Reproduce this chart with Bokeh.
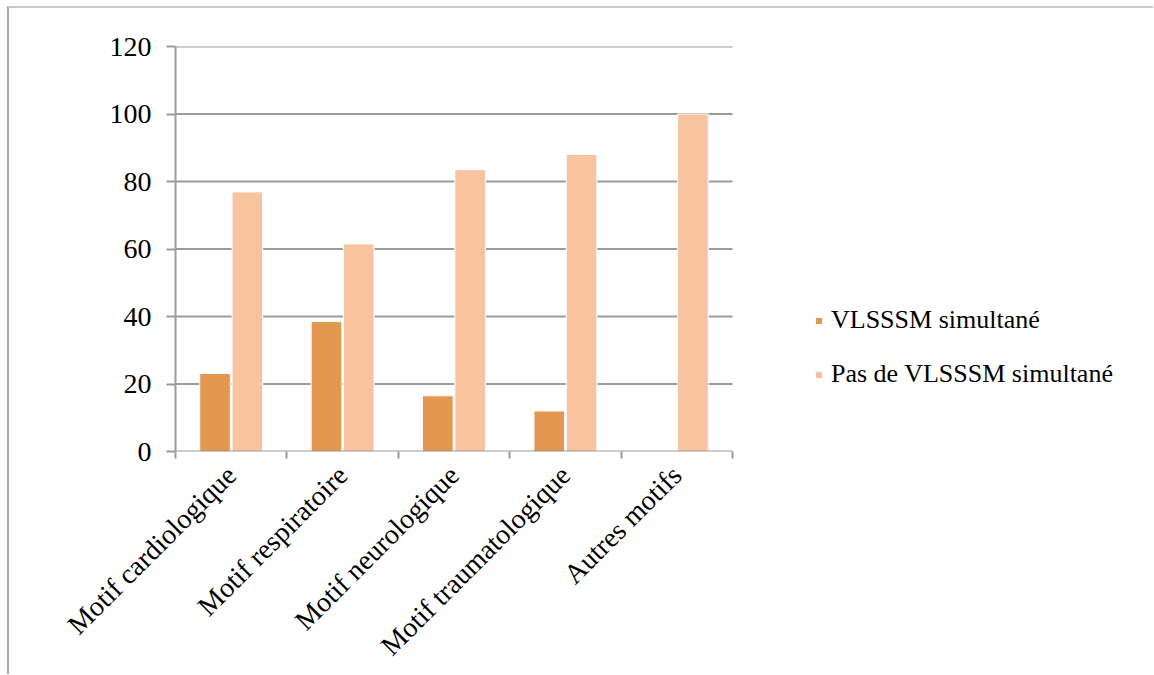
from math import pi

from bokeh.embed import file_html
from bokeh.models import (ColumnDataSource, FixedTicker, Legend, LegendItem,
                          LinearAxis, Range1d)
from bokeh.plotting import figure
from bokeh.resources import INLINE

# ---- data -------------------------------------------------------------
categories = ["Motif cardiologique", "Motif respiratoire", "Motif neurologique",
              "Motif traumatologique", "Autres motifs"]
vlsssm_simultane = [23.1, 38.5, 16.5, 12.0, 0.0]
pas_de_vlsssm = [76.9, 61.5, 83.5, 88.0, 100.0]
series_names = ["VLSSSM simultané", "Pas de VLSSSM simultané"]
y_ticks = [0, 20, 40, 60, 80, 100, 120]

# ---- style / geometry ---------------------------------------------------
FONT = "Liberation Serif"
DARK = "#E4974E"
LIGHT = "#FAC3A0"
AXIS_GREY = "#9b9b9b"
DODGE = 0.145
BAR_W = 0.275

W, H = 1146, 668            # canvas size (page adds margin + border)
LEFT, TOP, BOTTOM = 166, 38, 225
PLOT_PX = 557               # width taken by the category axis
FRAME_PX = W - LEFT         # frame runs to the right edge, legend sits in it

n = len(categories)
centers = [i + 0.5 for i in range(n)]
x_end = n * FRAME_PX / PLOT_PX

src = ColumnDataSource(dict(
    x_dark=[c - DODGE for c in centers],
    x_light=[c + DODGE for c in centers],
    dark=vlsssm_simultane,
    light=pas_de_vlsssm,
))
grid_src = ColumnDataSource(dict(
    x0=[0] * (len(y_ticks) - 1), x1=[n] * (len(y_ticks) - 1), y=y_ticks[1:],
))
base_src = ColumnDataSource(dict(x0=[0], x1=[n], y=[y_ticks[0]]))

p = figure(width=W, height=H, output_backend="svg", toolbar_location=None,
           x_range=Range1d(0, x_end), y_range=Range1d(y_ticks[0], y_ticks[-1]),
           min_border_left=LEFT, min_border_right=0, min_border_top=TOP,
           min_border_bottom=BOTTOM, x_axis_type=None, y_axis_type=None)
p.margin = (6, 0, 0, 7)
p.styles = {"border-top": "2px solid #c9c9c9", "border-left": "2px solid #a9a9a9"}
p.outline_line_color = None
p.background_fill_color = "white"
p.border_fill_color = "white"
p.xgrid.grid_line_color = None
p.ygrid.grid_line_color = None

# horizontal grid lines over the category span only
p.segment(x0="x0", x1="x1", y0="y", y1="y", source=grid_src,
          line_color=AXIS_GREY, line_width=2)

r_dark = p.vbar(x="x_dark", top="dark", width=BAR_W, source=src,
                fill_color=DARK, line_color="white", line_width=1)
r_light = p.vbar(x="x_light", top="light", width=BAR_W, source=src,
                 fill_color=LIGHT, line_color="white", line_width=1)

# category axis line, drawn over the bar bases
p.segment(x0="x0", x1="x1", y0="y", y1="y", source=base_src,
          line_color=AXIS_GREY, line_width=2)

# y axis
yax = LinearAxis(ticker=FixedTicker(ticks=y_ticks))
yax.axis_line_color = AXIS_GREY
yax.axis_line_width = 2
yax.major_tick_line_color = AXIS_GREY
yax.major_tick_line_width = 2
yax.major_tick_out = 9
yax.major_tick_in = 0
yax.minor_tick_line_color = None
yax.major_label_text_font = FONT
yax.major_label_text_font_size = "28px"
yax.major_label_text_color = "black"
yax.major_label_standoff = 15
p.add_layout(yax, "left")

# x axis: tick marks on the category boundaries
xax = LinearAxis(ticker=FixedTicker(ticks=list(range(n + 1))))
xax.axis_line_color = None
xax.major_tick_line_color = AXIS_GREY
xax.major_tick_line_width = 2
xax.major_tick_out = 7
xax.major_tick_in = 0
xax.minor_tick_line_color = None
xax.major_label_text_font_size = "0px"
xax.major_label_standoff = 0
xax.major_label_overrides = {i: "" for i in range(n + 1)}
p.add_layout(xax, "below")

# category names, slanted, centred under each group
lab = LinearAxis(ticker=FixedTicker(ticks=centers))
lab.major_label_overrides = {c: name for c, name in zip(centers, categories)}
lab.major_label_orientation = pi / 4
lab.axis_line_color = None
lab.major_tick_line_color = None
lab.minor_tick_line_color = None
lab.major_tick_out = 0
lab.major_label_text_font = FONT
lab.major_label_text_font_size = "28px"
lab.major_label_text_color = "black"
lab.major_label_standoff = 12
p.add_layout(lab, "below")

legend = Legend(items=[LegendItem(label=series_names[0], renderers=[r_dark]),
                       LegendItem(label=series_names[1], renderers=[r_light])],
                location=(639, 62))
legend.glyph_width = 9
legend.glyph_height = 9
legend.label_text_font = FONT
legend.label_text_font_size = "26px"
legend.label_text_color = "black"
legend.label_standoff = 8
legend.spacing = 24
legend.padding = 0
legend.margin = 0
legend.border_line_color = None
legend.background_fill_alpha = 0
p.add_layout(legend, "center")

open("out.html", "w").write(file_html(p, INLINE))
